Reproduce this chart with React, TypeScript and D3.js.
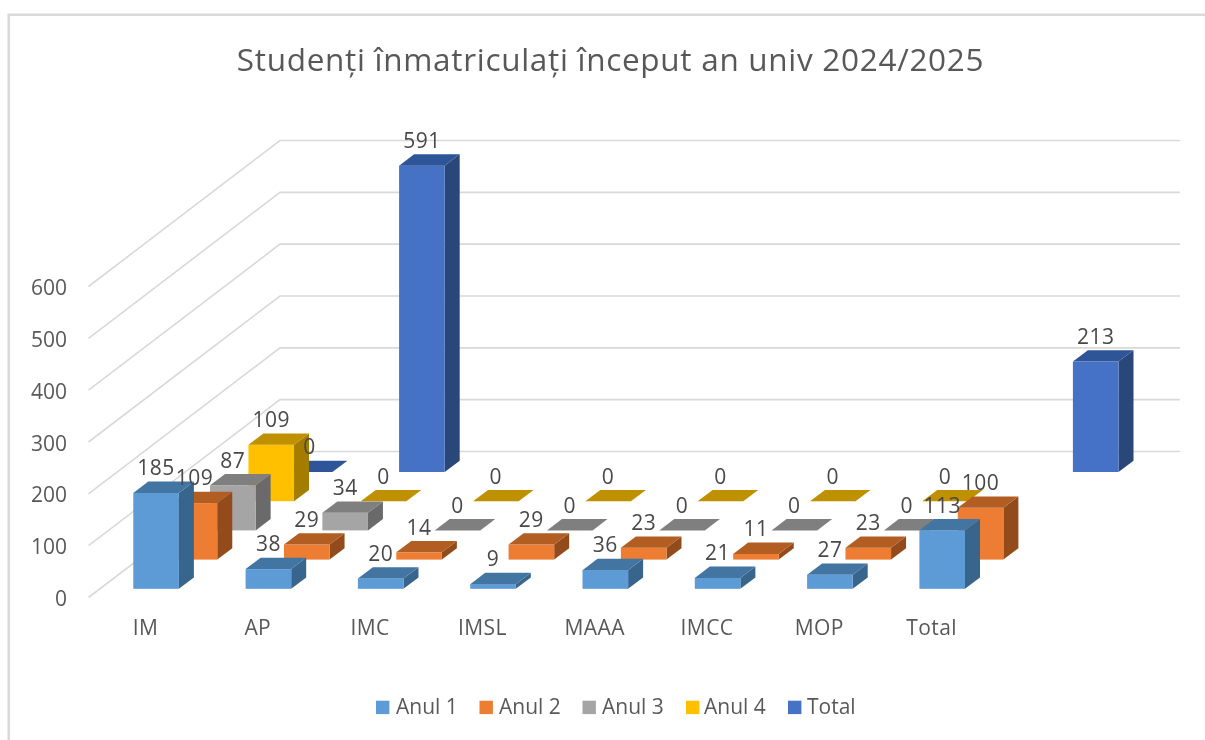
import React from "react";
import * as d3 from "d3";

const categories = ["IM", "AP", "IMC", "IMSL", "MAAA", "IMCC", "MOP", "Total"];
const seriesNames = ["Anul 1", "Anul 2", "Anul 3", "Anul 4", "Total"];
const anul1: (number | null)[] = [185, 38, 20, 9, 36, 21, 27, 113];
const anul2: (number | null)[] = [109, 29, 14, 29, 23, 11, 23, 100];
const anul3: (number | null)[] = [87, 34, 0, 0, 0, 0, 0, null];
const anul4: (number | null)[] = [109, 0, 0, 0, 0, 0, 0, null];
const totals: (number | null)[] = [0, 591, null, null, null, null, null, 213];
const seriesValues: (number | null)[][] = [anul1, anul2, anul3, anul4, totals];
const yTicks = [0, 100, 200, 300, 400, 500, 600];
const titleText = "Studenți înmatriculați început an univ 2024/2025";

const frontColors = ["#5B9BD5", "#ED7D31", "#A5A5A5", "#FFC000", "#4472C4"];
const topColors = ["#4274A1", "#B25D24", "#7F7F7F", "#BF9000", "#2F5597"];
const sideColors = ["#39658C", "#934C1B", "#6B6B6B", "#A37C00", "#29467A"];

const FONT = "'Open Sans', 'Noto Sans', sans-serif";

// oblique projection
const catX = d3.scaleLinear().domain([0, 7]).range([133.3, 919.4]);
const rowDX = d3.scaleLinear().domain([0, 4]).range([0, 153.5]);
const rowY = d3.scaleLinear().domain([0, 4]).range([588.8, 472]);
const barH = d3.scaleLinear().domain([0, 600]).range([0, 311]);
const barW = 45.6;
const depthX = 15;
const depthY = 11.3;

const wallFrontX = 88.5;
const wallBackX = 280;
const wallRight = 1180;
const backBase = 451.5;
const frontBase = 597.5;

const pts = (p: [number, number][]) => p.map((q) => q.join(",")).join(" ");

export default function App() {
  const rows = d3.range(seriesNames.length).reverse();
  const marks: React.ReactNode[] = [];
  const labels: React.ReactNode[] = [];
  rows.forEach((r) => {
    seriesValues[r].forEach((v, c) => {
      if (v === null) return;
      const x0 = catX(c) + rowDX(r);
      const x1 = x0 + barW;
      const yb = rowY(r);
      const yt = yb - barH(v);
      marks.push(
        <g key={`${r}-${c}`}>
          {v > 0 && <polygon points={pts([[x1, yb], [x1 + depthX, yb - depthY], [x1 + depthX, yt - depthY], [x1, yt]])} fill={sideColors[r]} />}
          {v > 0 && <rect x={x0} y={yt} width={barW} height={yb - yt} fill={frontColors[r]} />}
          <polygon points={pts([[x0, yt], [x1, yt], [x1 + depthX, yt - depthY], [x0 + depthX, yt - depthY]])} fill={topColors[r]} />
        </g>
      );
      labels.push(
        <text key={`l${r}-${c}`} x={(x0 + x1) / 2} y={yt - depthY - 13.7} dy="0.35em" textAnchor="middle" fontSize={21} letterSpacing={0.5} fill="#484848" fontFamily={FONT}>
          {v}
        </text>
      );
    });
  });

  const legendSwatch = [376, 479.5, 582.5, 686, 788];
  const legendText = [396, 499, 602, 704, 807];

  return (
    <svg width={1205} height={740} style={{ position: "fixed", left: 0, top: 0, background: "#fff" }}>
      <defs>
        <filter id="soft" x="0" y="0" width="100%" height="100%" filterUnits="objectBoundingBox">
          <feGaussianBlur stdDeviation="0.45" />
        </filter>
      </defs>
      <g filter="url(#soft)">
        <rect width={1205} height={740} fill="#fff" />
        <path d="M8.7,740 V14.7 H1205" fill="none" stroke="#d9d9d9" strokeWidth={2.5} />
        <text x={610.5} y={60} dy="0.35em" textAnchor="middle" fontSize={31.5} letterSpacing={0.7} fill="#595959" fontFamily={FONT}>
          {titleText}
        </text>
        {yTicks.map((t) => {
          const h = barH(t);
          return (
            <g key={t}>
              <polyline points={pts([[wallFrontX, frontBase - h], [wallBackX, backBase - h], [wallRight, backBase - h]])} fill="none" stroke="#d9d9d9" strokeWidth={1.6} />
              <text x={67} y={frontBase - h + 1.3} dy="0.35em" textAnchor="end" fontSize={21} fill="#595959" fontFamily={FONT}>
                {t}
              </text>
            </g>
          );
        })}
        {marks}
        {labels}
        {categories.map((c, i) => (
          <text key={c} x={catX(i) + 12.2} y={627.5} dy="0.35em" textAnchor="middle" fontSize={21} letterSpacing={0.4} fill="#595959" fontFamily={FONT}>
            {c}
          </text>
        ))}
        {seriesNames.map((s, i) => (
          <g key={s}>
            <rect x={legendSwatch[i]} y={700.7} width={13.4} height={13.4} fill={frontColors[i]} />
            <text x={legendText[i]} y={707} dy="0.35em" fontSize={21} fill="#595959" fontFamily={FONT}>
              {s}
            </text>
          </g>
        ))}
      </g>
    </svg>
  );
}
